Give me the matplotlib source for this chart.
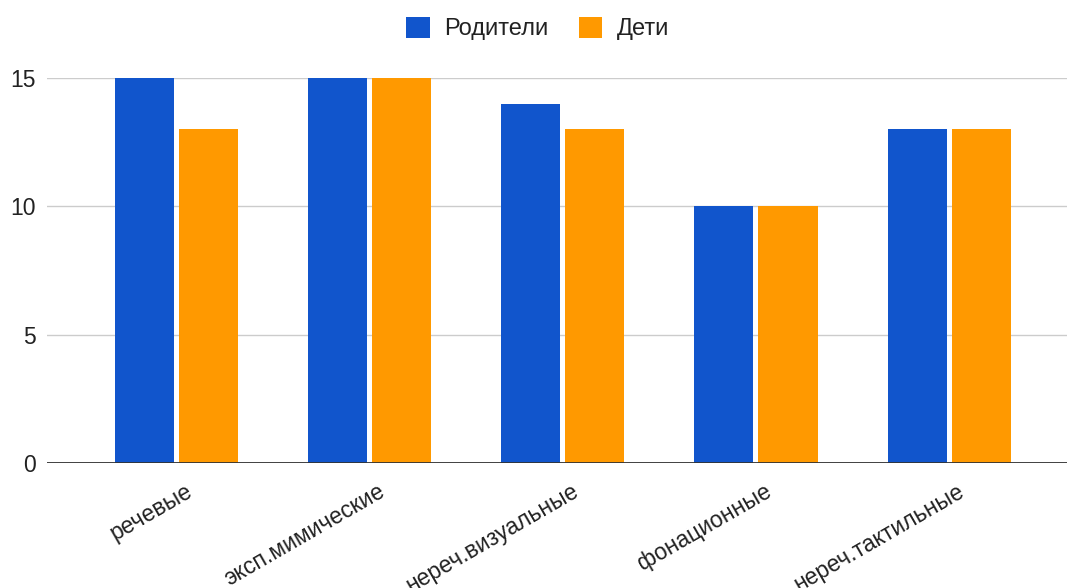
import matplotlib
matplotlib.use("Agg")
from matplotlib import pyplot as plt
import matplotlib.transforms as mtransforms
import numpy as np

plt.rcParams['font.family'] = ['Liberation Sans', 'DejaVu Sans']

categories = ["речевые", "эксп.мимические", "нереч.визуальные", "фонационные", "нереч.тактильные"]
roditeli = [15, 15, 14, 10, 13]
deti = [13, 15, 13, 10, 13]

blue = '#1155cc'
orange = '#ff9900'

fig = plt.figure(figsize=(10.67, 5.88), dpi=100)
ax = fig.add_axes([0.044, 0.2126, 0.956, 0.6547])

x = np.arange(len(categories))
w = 0.306
ax.bar(x - w/2 - 0.013, roditeli, w, color=blue, label='Родители', zorder=3)
ax.bar(x + w/2 + 0.013, deti, w, color=orange, label='Дети', zorder=3)

ax.set_xlim(-0.67, 4.61)
ax.set_ylim(0, 15)
ax.set_yticks([0, 5, 10, 15])
ax.grid(axis='y', color='#cccccc', linewidth=1, zorder=0)
ax.axhline(0, color='#333333', linewidth=1.3, zorder=4)

for s in ax.spines.values():
    s.set_visible(False)

ax.tick_params(axis='both', length=0, labelsize=16.5, colors='#222222')
ax.tick_params(axis='y', pad=8)
ax.set_xticks(x)
ax.set_xticklabels(categories, rotation=30, ha='right', va='top',
                   rotation_mode='anchor')
ax.tick_params(axis='x', pad=12)
# labels end a bit right of the group centre
offset = mtransforms.ScaledTranslation(0.08, 0, fig.dpi_scale_trans)
for lbl in ax.get_xticklabels():
    lbl.set_transform(lbl.get_transform() + offset)

ax.legend(loc='upper center', bbox_to_anchor=(0.5 - 0.019, 1.0 + 0.215),
          ncol=2, frameon=False, fontsize=17, handlelength=1.0, handleheight=1.0,
          columnspacing=1.3, handletextpad=0.6, labelcolor='#222222')

fig.savefig('out.png', dpi=100)
